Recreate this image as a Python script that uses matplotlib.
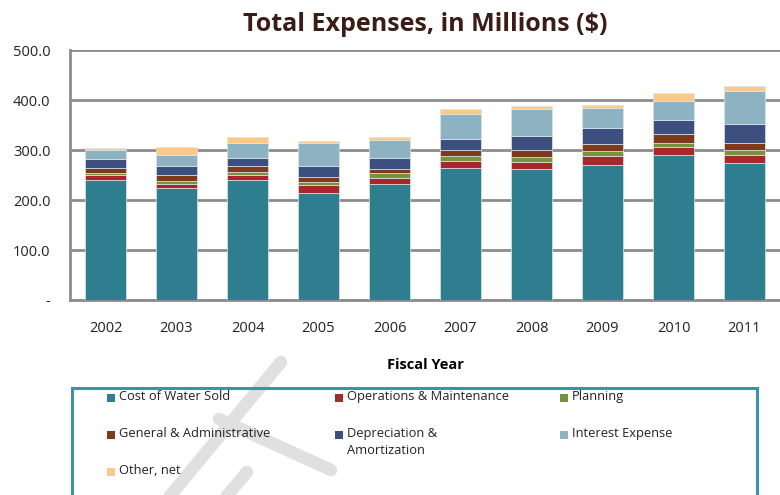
import numpy as np
import matplotlib.pyplot as plt
from matplotlib.patches import Rectangle
from matplotlib.lines import Line2D

plt.rcParams['font.family'] = ['Open Sans', 'DejaVu Sans']

years = ["2002", "2003", "2004", "2005", "2006", "2007", "2008", "2009", "2010", "2011"]

cost_of_water = [241, 225, 241, 215, 233, 265, 262, 271, 291, 274]
operations = [9, 8, 10, 16, 12, 14, 15, 18, 15, 17]
planning = [4, 6, 6, 6, 9, 10, 9, 9, 9, 10]
general_admin = [11, 12, 12, 10, 9, 11, 14, 14, 18, 14]
depreciation = [18, 18, 16, 22, 22, 23, 29, 32, 28, 38]
interest = [18, 22, 30, 46, 36, 50, 53, 41, 38, 66]
other_net = [3, 16, 12, 4, 5, 9, 6, 6, 15, 10]

series = [
    ("Cost of Water Sold", cost_of_water, "#2e7e90"),
    ("Operations & Maintenance", operations, "#a9262a"),
    ("Planning", planning, "#77933c"),
    ("General & Administrative", general_admin, "#7f3a1b"),
    ("Depreciation &\nAmortization", depreciation, "#3d4f7e"),
    ("Interest Expense", interest, "#8db2c1"),
    ("Other, net", other_net, "#fcc98a"),
]

W, H = 780, 495
fig = plt.figure(figsize=(7.8, 4.95), dpi=100)
ax = fig.add_axes([70 / W, 1 - 300 / H, 710 / W, 250 / H])

x = np.arange(len(years))
bottom = np.zeros(len(years))
for name, vals, col in series:
    ax.bar(x, vals, width=0.57, bottom=bottom, color=col,
           edgecolor="#dbe6ea", linewidth=0.5, zorder=3)
    bottom += np.array(vals)

ax.set_xlim(-0.5, len(years) - 0.5)
ax.set_ylim(0, 500)
ax.set_yticks([0, 100, 200, 300, 400, 500])
ax.set_yticklabels(["-", "100.0", "200.0", "300.0", "400.0", "500.0"])
ax.set_xticks(x)
ax.set_xticklabels(years)
ax.tick_params(axis="y", length=0, pad=14, labelsize=10.5, colors="#222222")
ax.tick_params(axis="x", length=0, pad=15, labelsize=10.5, colors="#222222")
ax.grid(axis="y", color="#8c8c8c", linewidth=2.0, zorder=1)
ax.set_axisbelow(True)
for s in ["top", "right"]:
    ax.spines[s].set_visible(False)
for s in ["left", "bottom"]:
    ax.spines[s].set_color("#8c8c8c")
    ax.spines[s].set_linewidth(2.0)

ax.set_xlabel("Fiscal Year", fontsize=10.5, fontweight="bold", labelpad=16)
ax.set_title("Total Expenses, in Millions ($)", fontsize=18, fontweight="bold",
             color="#3a1d14", pad=14)

# faint watermark strokes behind the legend
def px(xp, yp):
    return xp / W, 1 - yp / H

for (x0, y0), (x1, y1) in [((281, 362), (150, 520)),
                           ((219, 419), (331, 470)),
                           ((247, 472), (215, 510))]:
    (fx0, fy0), (fx1, fy1) = px(x0, y0), px(x1, y1)
    fig.add_artist(Line2D([fx0, fx1], [fy0, fy1], transform=fig.transFigure,
                          color="#e0e0e0", linewidth=9, solid_capstyle="round",
                          zorder=1))

# legend box running off the bottom edge
bx, by = px(72, 388)
fig.add_artist(Rectangle((bx, -0.05), 685 / W, by + 0.05, transform=fig.transFigure,
                         facecolor="none", edgecolor="#3a93a6", linewidth=2.2,
                         zorder=2, clip_on=False))

col_x = [107, 335, 560]
row_y = [398, 435, 472]
slots = [(0, 0), (1, 0), (2, 0), (0, 1), (1, 1), (2, 1), (0, 2)]
for (name, vals, col), (c, r) in zip(series, slots):
    mx, my = px(col_x[c], row_y[r] + 4)
    fig.add_artist(Rectangle((mx, my), 8 / W, 8 / H, transform=fig.transFigure,
                             facecolor=col, edgecolor="none", zorder=3))
    tx, ty = px(col_x[c] + 12, row_y[r] - 8)
    fig.text(tx, ty, name, fontsize=9.3, color="#222222", va="top", ha="left",
             linespacing=1.35, zorder=3)

fig.savefig("out.png", dpi=100)
